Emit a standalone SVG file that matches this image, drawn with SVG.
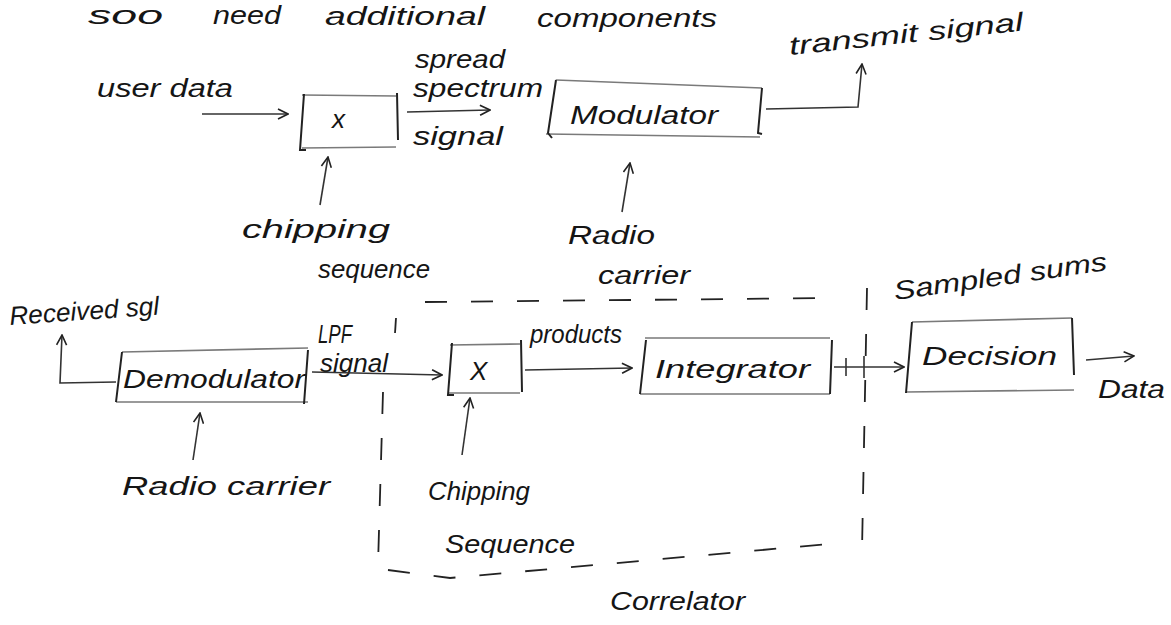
<svg xmlns="http://www.w3.org/2000/svg" width="1171" height="625" viewBox="0 0 1171 625">
  <defs>
    <marker id="arr" viewBox="0 0 12 12" refX="11" refY="6" markerWidth="12" markerHeight="12" markerUnits="userSpaceOnUse" orient="auto">
      <path d="M1,1 L11,6 L1,11" fill="none" stroke="#222" stroke-width="1.6"/>
    </marker>
  </defs>
  <style>
    text { font-family: "Liberation Sans", "DejaVu Sans", sans-serif; font-style: italic; fill: #151515; }
    .lbl { font-size: 26px; }
    .big { font-size: 26px; }
    .box { fill: none; stroke: #7a7a7a; stroke-width: 1.6; }
    .side { fill: none; stroke: #222; stroke-width: 2; }
    .wire { fill: none; stroke: #333; stroke-width: 1.6; }
    .dash { fill: none; stroke: #222; stroke-width: 1.8; stroke-dasharray: 22 24; }
  </style>
  <rect width="1171" height="625" fill="#ffffff"/>

  <!-- heading line -->
  <g id="heading">
    <text class="big" x="88" y="24" textLength="75" lengthAdjust="spacingAndGlyphs">soo</text>
    <text class="big" x="213" y="24" textLength="68" lengthAdjust="spacingAndGlyphs">need</text>
    <text class="big" x="325" y="25" textLength="160" lengthAdjust="spacingAndGlyphs">additional</text>
    <text class="big" x="537" y="27" textLength="180" lengthAdjust="spacingAndGlyphs">components</text>
  </g>

  <!-- transmitter chain -->
  <g id="tx-mult">
    <path class="box" d="M302,95 L396,96 M302,148 L396,147"/>
    <path class="side" d="M304,94 L300,150 L306,150 M397,93 L398,140"/>
    <text class="lbl" x="332" y="128">x</text>
  </g>
  <g id="modulator">
    <path class="box" d="M556,80 L762,88 M546,134 L760,137"/>
    <path class="side" d="M556,80 L548,133 L552,138 M762,88 L758,133 L762,134"/>
    <text class="lbl" x="570" y="124" textLength="148" lengthAdjust="spacingAndGlyphs">Modulator</text>
  </g>
  <g id="tx-labels">
    <text class="lbl" x="97" y="97" textLength="136" lengthAdjust="spacingAndGlyphs">user data</text>
    <text class="lbl" x="415" y="68" font-size="18" textLength="90" lengthAdjust="spacingAndGlyphs">spread</text>
    <text class="lbl" x="413" y="97" font-size="18" textLength="130" lengthAdjust="spacingAndGlyphs">spectrum</text>
    <text class="lbl" x="413" y="145" textLength="90" lengthAdjust="spacingAndGlyphs">signal</text>
    <text class="lbl" x="790" y="55" transform="rotate(-6 790 55)" textLength="235" lengthAdjust="spacingAndGlyphs">transmit signal</text>
    <text class="lbl" x="242" y="238" textLength="148" lengthAdjust="spacingAndGlyphs">chipping</text>
    <text class="lbl" x="318" y="278" textLength="112" lengthAdjust="spacingAndGlyphs">sequence</text>
    <text class="lbl" x="568" y="244" textLength="87" lengthAdjust="spacingAndGlyphs">Radio</text>
    <text class="lbl" x="598" y="284" textLength="92" lengthAdjust="spacingAndGlyphs">carrier</text>
  </g>

  <!-- receiver chain -->
  <g id="demodulator">
    <path class="box" d="M122,352 L308,348 M116,402 L308,402"/>
    <path class="side" d="M122,352 L116,402 M308,350 L304,404"/>
    <text class="lbl" x="123" y="388" textLength="182" lengthAdjust="spacingAndGlyphs">Demodulator</text>
  </g>
  <g id="rx-mult">
    <path class="box" d="M450,345 L520,344 M448,393 L520,393"/>
    <path class="side" d="M452,343 L448,395 L454,395 M521,340 L522,392"/>
    <text class="lbl" x="470" y="380">X</text>
  </g>
  <g id="integrator">
    <path class="box" d="M645,338 L830,338 M640,394 L830,394"/>
    <path class="side" d="M646,340 L640,394 M832,340 L830,394"/>
    <text class="lbl" x="655" y="378" textLength="155" lengthAdjust="spacingAndGlyphs">Integrator</text>
  </g>
  <g id="decision">
    <path class="box" d="M912,322 L1072,318 M906,392 L1074,390"/>
    <path class="side" d="M912,322 L906,393 M1072,318 L1074,375"/>
    <text class="lbl" x="922" y="365" textLength="135" lengthAdjust="spacingAndGlyphs">Decision</text>
  </g>
  <g id="correlator">
    <path class="dash" d="M425,302 L835,298"/>
    <path class="dash" d="M867,288 L862,550"/>
    <path class="dash" d="M383,392 L378,565"/>
    <path class="dash" d="M388,570 L450,578 L840,543"/>
    <path fill="none" stroke="#222" stroke-width="1.8" d="M396,318 L395,333"/>
    <text class="lbl" x="610" y="610" textLength="135" lengthAdjust="spacingAndGlyphs">Correlator</text>
  </g>
  <g id="rx-labels">
    <text class="lbl" x="10" y="325" transform="rotate(-4 10 325)" textLength="150" lengthAdjust="spacingAndGlyphs">Received sgl</text>
    <text class="lbl" x="318" y="343" font-size="20" textLength="34" lengthAdjust="spacingAndGlyphs">LPF</text>
    <text class="lbl" x="320" y="372" font-size="22" textLength="68" lengthAdjust="spacingAndGlyphs">signal</text>
    <text class="lbl" x="530" y="343" textLength="92" lengthAdjust="spacingAndGlyphs">products</text>
    <text class="lbl" x="895" y="300" transform="rotate(-8 895 300)" textLength="215" lengthAdjust="spacingAndGlyphs">Sampled sums</text>
    <text class="lbl" x="1098" y="398" textLength="67" lengthAdjust="spacingAndGlyphs">Data</text>
    <text class="lbl" x="122" y="495" textLength="208" lengthAdjust="spacingAndGlyphs">Radio carrier</text>
    <text class="lbl" x="428" y="500" textLength="102" lengthAdjust="spacingAndGlyphs">Chipping</text>
    <text class="lbl" x="445" y="553" textLength="130" lengthAdjust="spacingAndGlyphs">Sequence</text>
  </g>

  <!-- connectors -->
  <g id="connectors">
    <path class="wire" d="M202,114 L288,114" marker-end="url(#arr)"/>
    <path class="wire" d="M320,205 L328,157" marker-end="url(#arr)"/>
    <path class="wire" d="M407,112 L490,110" marker-end="url(#arr)"/>
    <path class="wire" d="M622,212 L630,163" marker-end="url(#arr)"/>
    <path class="wire" d="M766,109 L858,107 L862,64" marker-end="url(#arr)"/>
    <path class="wire" d="M116,382 L60,383 L62,335" marker-end="url(#arr)"/>
    <path class="wire" d="M193,460 L200,413" marker-end="url(#arr)"/>
    <path class="wire" d="M312,372 L442,375" marker-end="url(#arr)"/>
    <path class="wire" d="M462,455 L470,398" marker-end="url(#arr)"/>
    <path class="wire" d="M525,370 L632,368" marker-end="url(#arr)"/>
    <path class="wire" d="M834,367 L904,367" marker-end="url(#arr)"/>
    <path class="wire" d="M846,358 L846,376 M864,356 L864,378"/>
    <path class="wire" d="M1086,360 L1134,356" marker-end="url(#arr)"/>
  </g>
</svg>
